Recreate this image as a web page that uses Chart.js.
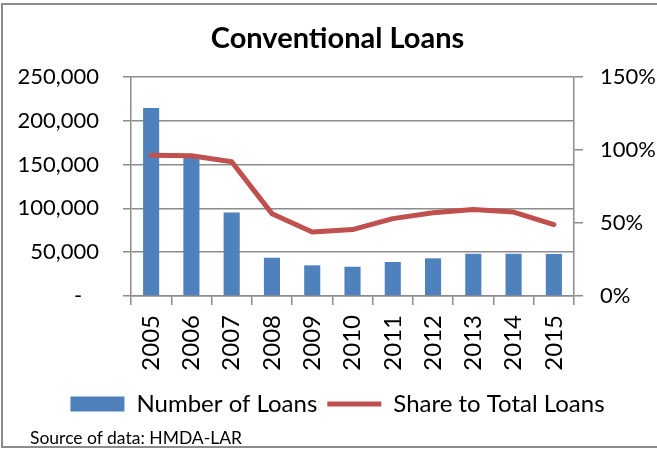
<!DOCTYPE html>
<html>
<head>
<meta charset="utf-8">
<script src="https://cdn.jsdelivr.net/npm/chart.js@4/dist/chart.umd.min.js"></script>
<style>
  html, body { margin: 0; padding: 0; background: #fff; }
  #wrap { position: relative; width: 657px; height: 449px; overflow: hidden; }
  #frame { position: absolute; left: 1px; top: 3px; width: 700px; height: 445px; border: 2px solid #8c8c8c; box-sizing: border-box; }
  canvas { position: absolute; left: 0; top: 0; }
  #source { position: absolute; left: 30px; top: 427px; font-family: Lato, sans-serif; font-size: 17.5px; line-height: 22px; color: #000; }
</style>
</head>
<body>
<div id="wrap">
  <div id="frame"></div>
  <canvas id="c" width="657" height="449"></canvas>
  <div id="source">Source of data: HMDA-LAR</div>
</div>
<script>
const categories = ['2005','2006','2007','2008','2009','2010','2011','2012','2013','2014','2015'];
const numberOfLoans = [214700, 158800, 95400, 43700, 35000, 33400, 38800, 43000, 48200, 48200, 48000];
const shareToTotal = [0.964, 0.960, 0.920, 0.564, 0.439, 0.455, 0.530, 0.570, 0.593, 0.575, 0.489];
const leftTicks = [0, 50000, 100000, 150000, 200000, 250000];
const rightTicks = [0, 0.5, 1.0, 1.5];

const gridColor = '#8c8c8c';
const font = 'Lato, "Open Sans", sans-serif';

new Chart(document.getElementById('c'), {
  data: {
    labels: categories,
    datasets: [
      {
        type: 'bar', label: 'Number of Loans', data: numberOfLoans, yAxisID: 'y',
        backgroundColor: '#4f81bd', borderWidth: 0,
        barPercentage: 0.4, categoryPercentage: 1.0, order: 1, pointStyle: 'rect'
      },
      {
        type: 'line', label: 'Share to Total Loans', data: shareToTotal, yAxisID: 'y1',
        borderColor: '#c0504d', backgroundColor: '#c0504d', borderWidth: 5,
        borderCapStyle: 'round', borderJoinStyle: 'round', tension: 0,
        pointRadius: 0, pointHoverRadius: 0, order: 0, pointStyle: 'line'
      }
    ]
  },
  options: {
    responsive: false,
    animation: false,
    layout: { padding: { left: 18, right: 0, top: 0, bottom: 23 } },
    plugins: {
      title: {
        display: true, text: 'Conventional Loans', color: '#000',
        font: { family: font, size: 29, weight: 'bold', lineHeight: 1.2 },
        padding: { top: 21.5, bottom: 20.7 }
      },
      legend: {
        position: 'bottom',
        labels: {
          color: '#000', font: { family: font, size: 24 },
          usePointStyle: true, pointStyleWidth: 54, boxHeight: 15, padding: 10,
          sort: (a, b) => a.datasetIndex - b.datasetIndex
        }
      },
      tooltip: { enabled: false }
    },
    scales: {
      x: {
        offset: true,
        grid: { offset: true, drawOnChartArea: false, color: gridColor, lineWidth: 1.5, tickLength: 9 },
        border: { color: gridColor, width: 1.5 },
        ticks: { color: '#000', font: { family: font, size: 24 }, minRotation: 90, maxRotation: 90, padding: 10 },
        afterFit: s => { s.height = 86; }
      },
      y: {
        position: 'left', min: 0, max: 250000,
        afterBuildTicks: s => { s.ticks = leftTicks.map(v => ({ value: v })); },
        grid: { color: gridColor, lineWidth: 1.5, tickLength: 8 },
        border: { color: gridColor, width: 1.5 },
        ticks: {
          color: '#000', font: { family: font, size: 22 }, padding: 24,
          callback: v => v === 0 ? '-   ' : v.toLocaleString('en-US')
        },
        afterFit: s => { s.width = 113; }
      },
      y1: {
        position: 'right', min: 0, max: 1.5,
        afterBuildTicks: s => { s.ticks = rightTicks.map(v => ({ value: v })); },
        grid: { drawOnChartArea: false, color: gridColor, lineWidth: 1.5, tickLength: 9 },
        border: { color: gridColor, width: 1.5 },
        ticks: {
          color: '#000', font: { family: font, size: 22 }, padding: 17,
          callback: v => Math.round(v * 100) + '%'
        },
        afterFit: s => { s.width = 83; }
      }
    }
  }
});
</script>
</body>
</html>
